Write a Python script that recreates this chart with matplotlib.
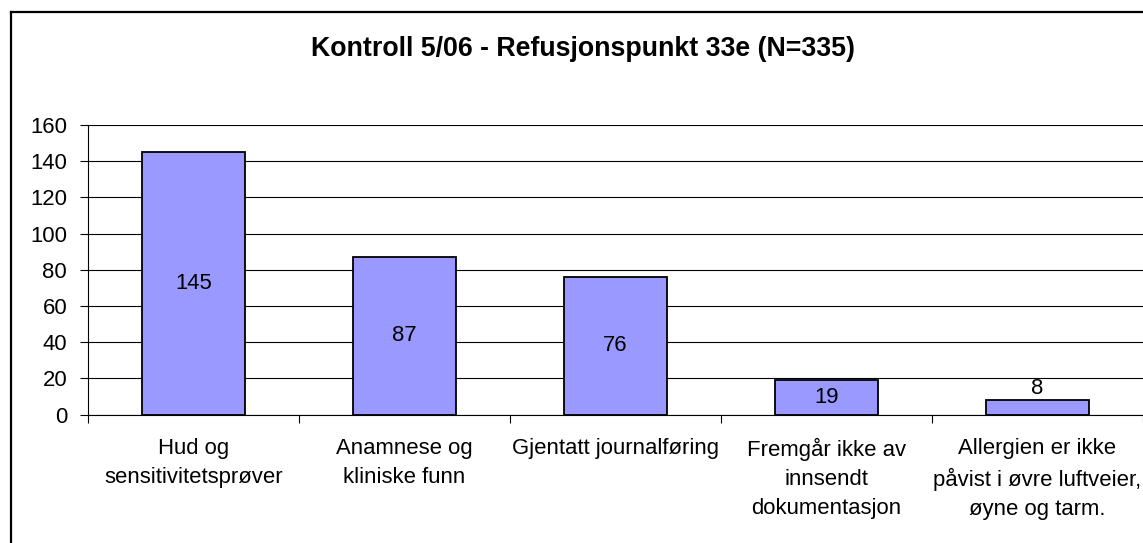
import matplotlib.pyplot as plt
from matplotlib.lines import Line2D

categories = [
    "Hud og\nsensitivitetsprøver",
    "Anamnese og\nkliniske funn",
    "Gjentatt journalføring",
    "Fremgår ikke av\ninnsendt\ndokumentasjon",
    "Allergien er ikke\npåvist i øvre luftveier,\nøyne og tarm.",
]
values = [145, 87, 76, 19, 8]
yticks = [0, 20, 40, 60, 80, 100, 120, 140, 160]
title = "Kontroll 5/06 - Refusjonspunkt 33e (N=335)"

plt.rcParams['font.family'] = ['Liberation Sans', 'DejaVu Sans']
FS = 15.9

fig = plt.figure(figsize=(11.43, 5.43), dpi=100)
ax = fig.add_axes([88 / 1143, 1 - 414.7 / 543, 1 - 88 / 1143, (414.7 - 125) / 543])

# chart area border (only top and left are inside the picture)
fig.add_artist(Line2D([11 / 1143, 11 / 1143], [0, 1 - 12 / 543], transform=fig.transFigure,
                      color='black', lw=1.6))
fig.add_artist(Line2D([11 / 1143, 1], [1 - 12 / 543, 1 - 12 / 543], transform=fig.transFigure,
                      color='black', lw=1.6))

x = range(len(values))
ax.bar(x, values, width=0.49, color='#9999FF', edgecolor='black', linewidth=1.3, zorder=3)

for xi, v in zip(x, values):
    if v < 15:
        ax.text(xi, v + 0.8, str(v), ha='center', va='bottom', fontsize=FS, zorder=4)
    else:
        ax.text(xi, v / 2, str(v), ha='center', va='center', fontsize=FS, zorder=4)

ax.set_xlim(-0.5, 4.5)
ax.set_ylim(0, 160)
ax.set_yticks(yticks)
ax.yaxis.grid(True, color='black', linewidth=0.8, zorder=0)
ax.set_axisbelow(True)

ax.set_xticks(list(x))
ax.set_xticklabels(categories, fontsize=FS, linespacing=1.5)
ax.set_xticks([i - 0.5 for i in range(len(values) + 1)], minor=True)
ax.tick_params(axis='x', which='major', length=0, pad=17)
ax.tick_params(axis='x', which='minor', length=6, width=0.8, direction='out')
ax.tick_params(axis='y', length=6, width=0.8, labelsize=FS, pad=9)

for s in ['top', 'right']:
    ax.spines[s].set_visible(False)
ax.spines['left'].set_linewidth(0.8)
ax.spines['bottom'].set_linewidth(0.8)

fig.text(583 / 1143, 1 - 55.7 / 543, title, ha='center', va='baseline', fontsize=19.3,
         fontweight='bold')

fig.savefig('out.png', dpi=100)
